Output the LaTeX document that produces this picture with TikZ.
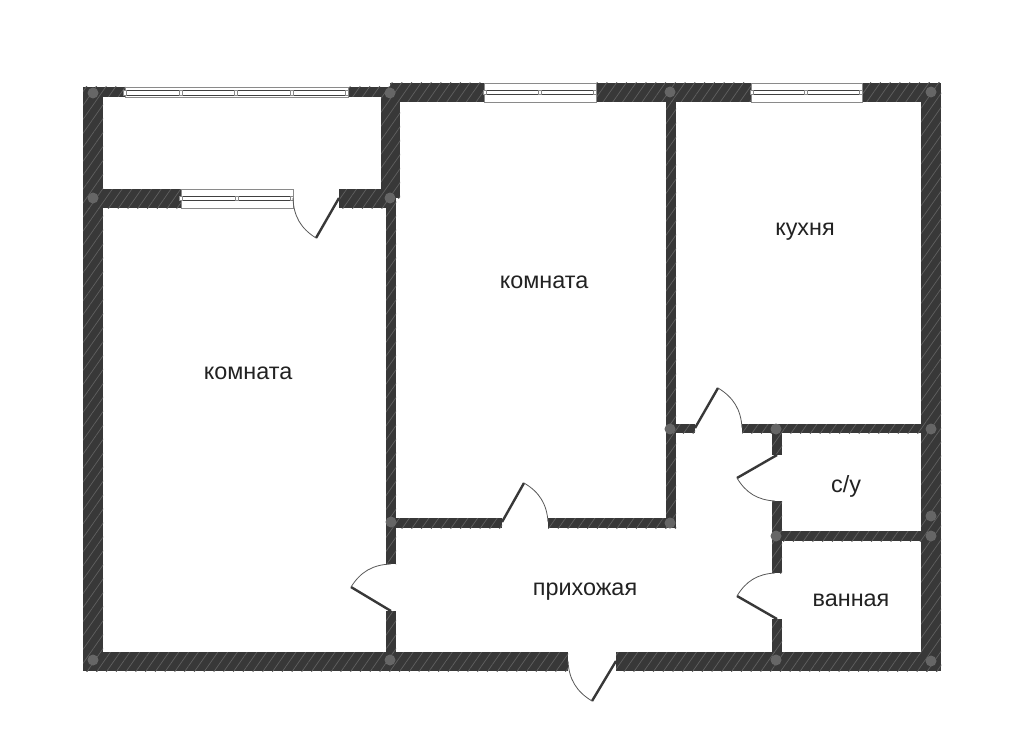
\documentclass[tikz,border=0pt]{standalone}
\usepackage{fontspec}
\setmainfont{Liberation Sans}
\usetikzlibrary{patterns.meta}
\definecolor{wallgray}{HTML}{383838}
\definecolor{hatchgray}{HTML}{606060}
\definecolor{pillargray}{HTML}{666666}
\definecolor{framegray}{HTML}{8A8A8A}
\definecolor{textgray}{HTML}{222222}
\tikzset{
  wall/.style={fill=wallgray, postaction={pattern={Lines[angle=55, distance=8pt, line width=.7pt]}, pattern color=hatchgray}},
  pillar/.style={fill=pillargray},
  windowframe/.style={draw=framegray, fill=white, line width=.9pt},
  windowglass/.style={draw=black!75, fill=white, line width=.8pt},
  windowbar/.style={draw=framegray, fill=white, line width=.6pt},
  leaf/.style={draw=wallgray, line width=2.4pt},
  swing/.style={draw=black!65, line width=.8pt},
  roomlabel/.style={text=textgray, font=\fontsize{23.4}{27}\selectfont, inner sep=0pt},
}
\begin{document}
\begin{tikzpicture}[x=1pt, y=-1pt]
\useasboundingbox (0,0) rectangle (1024,754);
\fill[white] (0,0) rectangle (1024,754);
% walls
\foreach \xa/\ya/\xb/\yb in {83/87/103/671, 83/87/125/97, 348/87/381/97, 381/87/400/198,
    83/189/181/208, 339/189/396/208,
    390/83/484/102, 596/83/751/102, 862/83/941/102,
    921/83/941/671, 83/652/568/671, 616/652/941/671,
    386/198/396/564, 386/611/396/652,
    666/102/676/528, 396/518/502/528, 548/518/676/528,
    676/424/695/433, 742/424/921/433,
    772/433/782/455, 772/501/782/573, 772/619/782/652, 782/531/921/541}
  \path[wall] (\xa,\ya) rectangle (\xb,\yb);
% pillars
\foreach \px/\py in {93/93, 390/93, 670/92, 931/92, 93/198, 390/198,
    670/429, 776/429, 931/429, 931/516, 931/536, 776/536,
    670/523, 391/522, 93/660, 390/660, 776/660, 931/661}
  \fill[pillar] (\px,\py) circle (5.5);
% windows
\foreach \xa/\ya/\xb/\yb/\ga/\gb in {125/87/348/97/90/95, 181/189/293/208/196/200,
    484/83/596/102/90/94, 751/83/862/102/90/94}
{
  \path[windowframe] (\xa,\ya) rectangle (\xb,\yb);
  \path[windowglass] (\xa,\ga) rectangle (\xb,\gb);
}
\foreach \mx/\ga/\gb in {125/90/95, 181/90/95, 236/90/95, 292/90/95, 347/90/95,
    181/196/200, 237/196/200, 292/196/200,
    485/90/94, 540/90/94, 595/90/94, 752/90/94, 806/90/94, 861/90/94}
  \path[windowbar] (\mx-1.5,\ga) rectangle (\mx+1.5,\gb);
% doors
\foreach \hx/\hy/\tx/\ty/\ex/\ey/\bend in {339/198/316/238/293/198/left,
    695/428/718/388/742/428/left, 777/455/737/478/775/501/right,
    777/619/737/596/775/573/left, 502/522/524/483/548/522/left,
    391/611/351/587/391/564/left, 616/661/592/701/568/661/left}
{
  \coordinate (hinge) at (\hx,\hy);
  \coordinate (tip) at (\tx,\ty);
  \coordinate (stop) at (\ex,\ey);
  \draw[leaf] (hinge) -- (tip);
  \draw[swing] (tip) to[bend \bend=28] (stop);
}
% rooms
\node[roomlabel] (room1) at (248,373) {комната};
\node[roomlabel] (room2) at (544,282) {комната};
\node[roomlabel] (kitchen) at (805,232) {кухня};
\node[roomlabel] (wc) at (846,486) {с/у};
\node[roomlabel] (bath) at (851,600) {ванная};
\node[roomlabel] (hall) at (585,592) {прихожая};
\end{tikzpicture}
\end{document}
